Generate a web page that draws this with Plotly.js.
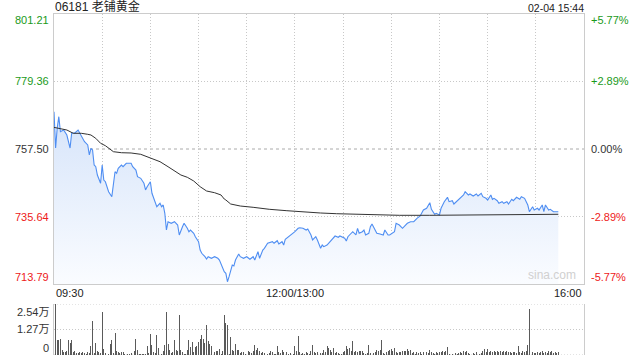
<!DOCTYPE html>
<html><head><meta charset="utf-8">
<script src="https://cdn.plot.ly/plotly-3.0.1.min.js"></script>
<style>html,body{margin:0;padding:0;background:#fff}#chart{width:640px;height:360px}</style>
</head><body><div id="chart"></div>
<script>
const stockTitle = "06181 老铺黄金";
const stampText = "02-04 15:44";
const prevClose = 757.50;
const priceAxisValues = [713.79, 735.64, 757.50, 779.36, 801.21];
const pctLabels = ["-5.77%", "-2.89%", "0.00%", "+2.89%", "+5.77%"];
const timeTickMinutes = [0, 150, 330];
const timeTickLabels = ["09:30", "12:00/13:00", "16:00"];
const volTickValues = [0, 12700, 25400];
const volTickLabels = ["0", "1.27万", "2.54万"];

const priceMinutes = [0,1,2,3,4,6,8,10,11,13,15,17,19,21,22,23,24,25,26,27,28,29,30,31,32,33,34,36,37,38,39,40,42,43,45,48,49,51,52,54,56,57,58,60,61,62,63,64,66,67,68,69,70,71,73,75,77,78,80,81,83,84,85,87,88,90,91,92,94,95,96,98,100,102,103,105,106,107,108,109,111,112,113,115,116,118,120,122,124,125,126,127,128,130,131,133,136,137,139,140,142,143,144,146,148,150,152,153,155,157,158,160,161,163,164,166,167,168,170,171,173,175,177,178,181,182,183,185,186,188,189,190,192,193,194,196,197,198,200,201,203,205,206,208,209,211,212,213,215,217,220,222,224,226,228,230,232,234,235,237,238,240,241,243,245,246,248,249,251,253,255,256,258,259,261,263,264,266,267,269,270,272,273,274,276,277,279,280,282,283,285,286,288,290,291,293,294,295,296,298,299,301,302,304,305,306,308,309,311,314];
const priceValues = [769.58,757.82,764.30,767.96,763.10,763.65,762.03,757.82,762.68,762.68,763.65,761.48,759.86,758.80,755.56,757.73,757.18,752.32,751.77,749.08,747.46,746.39,752.32,747.46,746.91,744.78,743.67,742.06,745.84,750.15,749.63,751.25,752.32,751.77,752.87,752.87,751.77,750.70,748.53,748.01,746.39,744.23,745.29,746.91,743.16,741.54,740.44,738.82,739.92,738.82,739.37,736.68,731.27,733.96,733.44,733.96,732.89,729.66,732.34,733.44,731.82,730.72,731.27,730.21,729.10,727.49,724.80,723.73,722.63,721.88,722.63,722.11,722.63,722.11,721.56,718.87,717.77,717.25,714.53,716.15,719.94,719.62,721.56,723.50,722.63,722.11,722.63,721.79,722.63,721.56,723.18,724.25,722.11,724.80,725.35,726.97,727.49,726.97,727.81,726.74,727.49,726.42,728.26,729.10,729.66,730.72,731.82,732.02,731.82,731.27,731.60,729.66,728.04,729.10,728.04,725.35,726.42,725.87,726.42,726.97,728.04,729.33,728.91,729.33,728.59,727.71,729.10,730.40,730.72,729.66,731.82,730.21,730.72,731.27,729.66,730.21,732.34,733.22,731.27,730.21,729.98,729.66,731.27,729.66,729.66,730.21,730.72,733.44,732.89,731.82,733.44,733.96,733.96,735.06,735.81,737.75,738.30,740.11,737.98,736.36,736.68,736.13,738.30,740.44,741.86,740.44,740.76,739.69,740.76,741.54,742.61,743.67,742.61,742.93,742.28,742.93,742.28,743.16,742.06,741.54,740.99,742.61,741.21,741.54,740.76,739.92,740.44,739.92,740.44,739.69,741.21,740.76,741.86,741.21,742.06,741.54,740.44,739.37,737.20,738.82,737.75,738.30,737.75,739.37,737.20,739.37,737.75,737.98,737.20,737.20];

const avgMinutes = [0,4,8,12,17,21,23,26,29,32,35,37,42,48,54,58,62,66,71,75,79,83,87,91,95,100,104,106,107,110,116,124,134,145,155,166,176,186,197,207,215,234,259,290,314];
const avgValues = [764.50,763.98,763.65,762.58,762.58,762.26,762.03,760.96,759.35,758.57,757.50,756.63,756.30,756.21,755.78,755.01,754.26,753.39,751.77,750.47,749.08,748.34,747.14,745.29,743.90,743.35,742.61,741.31,740.99,739.69,739.04,738.62,737.98,737.52,737.10,736.78,736.55,736.36,736.23,736.03,736.03,736.03,736.13,736.23,736.36];

const volumes = [
21800,25400,7300,7700,8200,2600,1400,1400,1900,7300,
6000,7300,1400,1900,900,800,1400,900,1400,900,
700,1400,900,4300,16700,1000,6000,2200,1400,1000,
21300,3100,900,8200,500,5600,7300,1000,11100,2200,
1400,900,1400,1700,500,200,300,500,900,200,
1900,7900,2600,500,300,500,300,300,4300,900,
10400,4800,1400,900,9900,3400,1400,600,2200,4800,
21500,5600,2600,800,1400,7700,2600,2200,20100,2600,
1400,500,500,2600,7300,3900,6500,1500,3900,4300,
6500,8200,10200,8200,6000,15000,7000,5600,4600,500,
1400,1900,2200,3100,500,2200,20100,15900,15000,500,
9000,2600,1900,5300,2600,2600,900,1400,1400,500,
200,1900,1400,900,2200,4800,2600,3400,1900,900,
1400,900,1400,500,900,2200,1400,700,500,4300,
1400,900,2600,1400,200,1400,500,900,200,500,
4300,2200,9600,1400,500,900,500,1400,900,500,
2200,4800,1400,900,1400,4300,1000,900,2600,1400,
4300,3400,2600,1400,3600,900,1400,900,500,500,
1400,2200,4300,3100,3400,1900,7000,1400,2200,1400,
1900,2200,1900,900,500,900,4800,900,4800,900,
1400,2600,1900,2600,7300,900,500,1400,2200,2600,
3100,2200,3600,1400,900,1400,1700,2200,1900,2200,
2900,1900,2600,900,1400,500,1400,900,1400,500,
1400,500,1400,900,2600,1400,900,500,1400,900,
1700,1400,1900,1400,2200,3900,500,200,500,200,
900,500,900,1400,900,1900,1400,2200,1000,500,
200,900,500,1400,900,500,900,2200,2900,1400,
2900,1400,1900,1400,1900,1400,1900,1400,1900,1400,
1900,1400,1900,1400,1400,900,1400,1400,900,4300,
1400,900,1900,1400,1900,4800,22700,1900,1400,900,
900,1400,900,1400,1900,900,1400,900,1900,1400,
1900,900,1400,900,1400];
const volMinutes = volumes.map((v, i) => i);

const FONT = "Liberation Sans, Arial, Noto Sans CJK SC, sans-serif";
const UP = "#1a9a1a", DOWN = "#ee2020", FLAT = "#333333";
const GRID = "#c8c8c8", BORDER = "#cccccc", FINE_DOT = "1px,2px";

const traces = [
  {x: priceMinutes, y: priceValues, type: "scatter", mode: "lines",
   line: {color: "#4f8ef2", width: 1.1}, fill: "tozeroy",
   fillgradient: {type: "vertical", start: priceAxisValues[0], stop: priceValues[0],
     colorscale: [[0, "rgba(250,252,255,1)"], [1, "rgba(214,228,250,1)"]]},
   xaxis: "x", yaxis: "y", hoverinfo: "skip"},
  {x: avgMinutes, y: avgValues, type: "scatter", mode: "lines",
   line: {color: "#333333", width: 1}, xaxis: "x", yaxis: "y", hoverinfo: "skip"},
  {x: volMinutes, y: volumes, type: "bar", width: 0.6,
   marker: {color: "#5a5a5a", line: {width: 0}}, xaxis: "x2", yaxis: "y2", hoverinfo: "skip"}
];

const gridX = [];
for (let m = 30; m < 330; m += 30) gridX.push(m);

const annotations = [];
priceAxisValues.forEach((v, i) => {
  const col = v > prevClose ? UP : (v < prevClose ? DOWN : FLAT);
  const ys = i === 0 ? 7 : (i === priceAxisValues.length - 1 ? -6 : 0);
  annotations.push({xref: "paper", yref: "y", x: 0, y: v, text: v.toFixed(2),
    xanchor: "right", yanchor: "middle", xshift: -3, yshift: ys, showarrow: false,
    font: {family: FONT, size: 11, color: col}});
  annotations.push({xref: "paper", yref: "y", x: 1, y: v, text: pctLabels[i],
    xanchor: "left", yanchor: "middle", xshift: 5, yshift: ys, showarrow: false,
    font: {family: FONT, size: 11, color: col}});
});
timeTickMinutes.forEach((m, i) => {
  annotations.push({xref: "x", yref: "y domain", x: m, y: 0, text: timeTickLabels[i],
    xanchor: i === 0 ? "left" : (i === timeTickMinutes.length - 1 ? "right" : "center"),
    yanchor: "top", yshift: -1, showarrow: false,
    font: {family: FONT, size: 11, color: "#222"}});
});
volTickValues.forEach((v, i) => {
  const ys = i === 0 ? 7 : (i === volTickValues.length - 1 ? -8 : 0);
  annotations.push({xref: "paper", yref: "y2", x: 0, y: v, text: volTickLabels[i],
    xanchor: "right", yanchor: "middle", xshift: -3, yshift: ys, showarrow: false,
    font: {family: FONT, size: 11, color: "#333"}});
});
annotations.push({xref: "paper", yref: "paper", x: 0, y: 1, text: stockTitle,
  xanchor: "left", yanchor: "bottom", xshift: -1, yshift: -2, showarrow: false,
  font: {family: FONT, size: 12, color: "#222"}});
annotations.push({xref: "paper", yref: "paper", x: 1, y: 1, text: stampText,
  xanchor: "right", yanchor: "bottom", xshift: 2, yshift: -2, showarrow: false,
  font: {family: FONT, size: 10.5, color: "#222"}});
annotations.push({xref: "x domain", yref: "y domain", x: 0.94, y: 0, text: "sina.com",
  xanchor: "center", yanchor: "bottom", yshift: 0, showarrow: false,
  font: {family: FONT, size: 12, color: "#d0d0d0"}});

const layout = {
  width: 640, height: 360,
  margin: {l: 54, r: 56, t: 14, b: 5, pad: 0},
  paper_bgcolor: "#ffffff", plot_bgcolor: "#ffffff",
  showlegend: false, bargap: 0,
  xaxis: {domain: [0, 1], range: [0, 330], tickvals: gridX, showticklabels: false,
    showgrid: true, gridcolor: GRID, griddash: FINE_DOT, gridwidth: 1, zeroline: false,
    showline: true, mirror: true, linecolor: BORDER, linewidth: 1, anchor: "y", fixedrange: true},
  yaxis: {domain: [0.2082, 1], range: [priceAxisValues[0], priceAxisValues[4]],
    tickvals: [priceAxisValues[1], priceAxisValues[3]], showticklabels: false,
    showgrid: true, gridcolor: GRID, griddash: FINE_DOT, zeroline: false,
    showline: true, mirror: true, linecolor: BORDER, linewidth: 1, anchor: "x", fixedrange: true},
  xaxis2: {domain: [0, 1], range: [0, 330], showticklabels: false, showgrid: false,
    zeroline: false, showline: false, anchor: "y2", fixedrange: true},
  yaxis2: {domain: [0, 0.1496], range: [0, volTickValues[2]], tickvals: volTickValues,
    showticklabels: false, showgrid: true, gridcolor: GRID, griddash: FINE_DOT, zeroline: false,
    showline: true, mirror: true, linecolor: BORDER, linewidth: 1, anchor: "x2", fixedrange: true},
  shapes: [
    {type: "line", xref: "x domain", yref: "y", x0: 0, x1: 1, y0: prevClose, y1: prevClose,
     line: {color: "#aaaaaa", width: 1, dash: "3px,3px"}, layer: "below"},
    {type: "line", xref: "x2 domain", yref: "y2", x0: 0, x1: 1, y0: volTickValues[2], y1: volTickValues[2],
     line: {color: GRID, width: 1, dash: FINE_DOT}, layer: "below"},
    {type: "line", xref: "x2 domain", yref: "y2", x0: 0, x1: 1, y0: 0, y1: 0,
     line: {color: GRID, width: 1, dash: FINE_DOT}, layer: "below"}
  ],
  annotations: annotations
};

Plotly.newPlot("chart", traces, layout, {staticPlot: true, displayModeBar: false});
</script></body></html>
